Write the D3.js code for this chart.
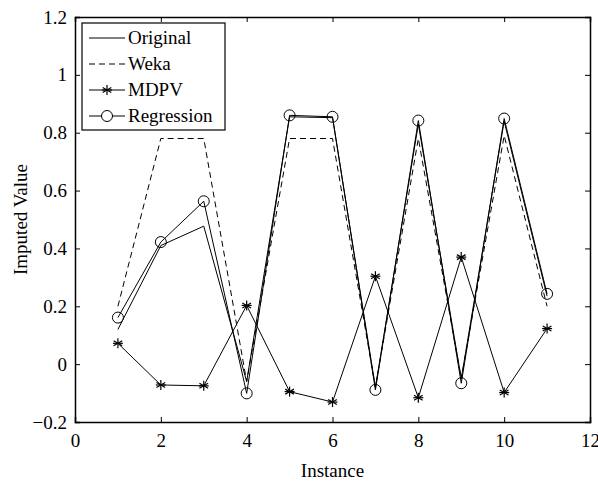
<!DOCTYPE html>
<html>
<head>
<meta charset="utf-8">
<script src="https://cdn.jsdelivr.net/npm/d3@7"></script>
<style>
  body { margin: 0; background: #fff; }
  text { font-family: "Liberation Serif", "Times New Roman", serif; }
</style>
</head>
<body>
<svg id="chart"></svg>
<script>
// data
var instances = [1, 2, 3, 4, 5, 6, 7, 8, 9, 10, 11];
var original = [0.12, 0.41, 0.477, -0.06, 0.855, 0.852, -0.08, 0.83, -0.05, 0.84, 0.235];
var weka = [0.2, 0.78, 0.78, -0.06, 0.78, 0.78, -0.08, 0.78, -0.05, 0.79, 0.2];
var mdpv = [0.072, -0.072, -0.075, 0.203, -0.095, -0.131, 0.304, -0.116, 0.37, -0.098, 0.123];
var regression = [0.161, 0.422, 0.563, -0.101, 0.86, 0.855, -0.089, 0.842, -0.066, 0.849, 0.243];
var xTicks = [0, 2, 4, 6, 8, 10, 12];
var yTicks = [-0.2, 0, 0.2, 0.4, 0.6, 0.8, 1, 1.2];
var seriesNames = ["Original", "Weka", "MDPV", "Regression"];

var svg_width = 598, svg_height = 484;
var margin = {top: 17, right: 8, bottom: 62, left: 75};
var plot_width = svg_width - margin.left - margin.right,
    plot_height = svg_height - margin.top - margin.bottom;

var svg = d3.select("#chart")
  .attr("width", svg_width)
  .attr("height", svg_height);

var g = svg.append("g")
  .attr("transform", "translate(" + margin.left + "," + margin.top + ")");

var x = d3.scaleLinear().domain([0, 12]).range([0, plot_width]);
var y = d3.scaleLinear().domain([-0.2, 1.2]).range([plot_height, 0]);

var fmt = function(d) { return d < 0 ? "\u2212" + Math.abs(d) : String(d); };

// axes, matlab style: ticks inside, on all four sides
g.append("g")
  .attr("transform", "translate(0," + plot_height + ")")
  .call(d3.axisBottom(x).tickValues(xTicks).tickSize(-5).tickPadding(12).tickFormat(fmt));
g.append("g")
  .call(d3.axisTop(x).tickValues(xTicks).tickSize(-5).tickFormat(""));
g.append("g")
  .call(d3.axisLeft(y).tickValues(yTicks).tickSize(-5).tickPadding(8).tickFormat(fmt));
g.append("g")
  .attr("transform", "translate(" + plot_width + ",0)")
  .call(d3.axisRight(y).tickValues(yTicks).tickSize(-5).tickFormat(""));

g.selectAll(".domain").attr("stroke", "#000").attr("stroke-width", 1.5);
g.selectAll(".tick line").attr("stroke", "#000");
g.selectAll(".tick text")
  .style("font-size", "19px")
  .style("font-family", "Liberation Serif")
  .attr("fill", "#000");

// axis labels
svg.append("text")
  .text("Instance")
  .attr("x", margin.left + plot_width / 2)
  .attr("y", 477)
  .attr("text-anchor", "middle")
  .style("font-size", "19px");

svg.append("text")
  .text("Imputed Value")
  .attr("transform", "translate(27," + (margin.top + plot_height / 2) + ") rotate(-90)")
  .attr("text-anchor", "middle")
  .style("font-size", "19px");

// lines
var line = d3.line()
  .x(function(d) { return x(d[0]); })
  .y(function(d) { return y(d[1]); });

var zipped = function(vals) { return instances.map(function(v, i) { return [v, vals[i]]; }); };

var plot = g.append("g").attr("id", "plot");

plot.append("path").datum(zipped(original))
  .attr("d", line).attr("fill", "none").attr("stroke", "#000").attr("stroke-width", 1);
plot.append("path").datum(zipped(weka))
  .attr("d", line).attr("fill", "none").attr("stroke", "#000").attr("stroke-width", 1)
  .attr("stroke-dasharray", "6,4");
plot.append("path").datum(zipped(mdpv))
  .attr("d", line).attr("fill", "none").attr("stroke", "#000").attr("stroke-width", 1);
plot.append("path").datum(zipped(regression))
  .attr("d", line).attr("fill", "none").attr("stroke", "#000").attr("stroke-width", 1);

// asterisk marker
function star(sel, r) {
  sel.each(function() {
    var s = d3.select(this);
    [0, 60, 120].forEach(function(a) {
      var rad = a * Math.PI / 180;
      s.append("line")
        .attr("x1", -r * Math.sin(rad)).attr("y1", -r * Math.cos(rad))
        .attr("x2", r * Math.sin(rad)).attr("y2", r * Math.cos(rad))
        .attr("stroke", "#000").attr("stroke-width", 1.2);
    });
    s.append("line").attr("x1", -r).attr("x2", r).attr("y1", 0).attr("y2", 0)
      .attr("stroke", "#000").attr("stroke-width", 1.2);
  });
}

plot.selectAll(".star")
  .data(zipped(mdpv))
  .enter().append("g")
  .attr("class", "star")
  .attr("transform", function(d) { return "translate(" + x(d[0]) + "," + y(d[1]) + ")"; })
  .call(star, 5);

plot.selectAll(".circ")
  .data(zipped(regression))
  .enter().append("circle")
  .attr("class", "circ")
  .attr("cx", function(d) { return x(d[0]); })
  .attr("cy", function(d) { return y(d[1]); })
  .attr("r", 5.5)
  .attr("fill", "none")
  .attr("stroke", "#000")
  .attr("stroke-width", 1);

// legend
var legend = g.append("g").attr("transform", "translate(7,6)");
legend.append("rect")
  .attr("width", 143).attr("height", 107)
  .attr("fill", "#fff").attr("stroke", "#000").attr("stroke-width", 1.2);

seriesNames.forEach(function(name, i) {
  var ly = 15 + i * 26;
  var row = legend.append("g").attr("transform", "translate(0," + ly + ")");
  var ln = row.append("line")
    .attr("x1", 7).attr("x2", 43).attr("y1", 0).attr("y2", 0)
    .attr("stroke", "#000").attr("stroke-width", 1);
  if (name === "Weka") ln.attr("stroke-dasharray", "6,4");
  if (name === "MDPV") row.append("g").attr("transform", "translate(25,0)").call(star, 5);
  if (name === "Regression") row.append("circle").attr("cx", 25).attr("cy", 0).attr("r", 5.5)
    .attr("fill", "#fff").attr("stroke", "#000");
  row.append("text")
    .text(name)
    .attr("x", 46).attr("y", 6)
    .style("font-size", "19px");
});
</script>
</body>
</html>
